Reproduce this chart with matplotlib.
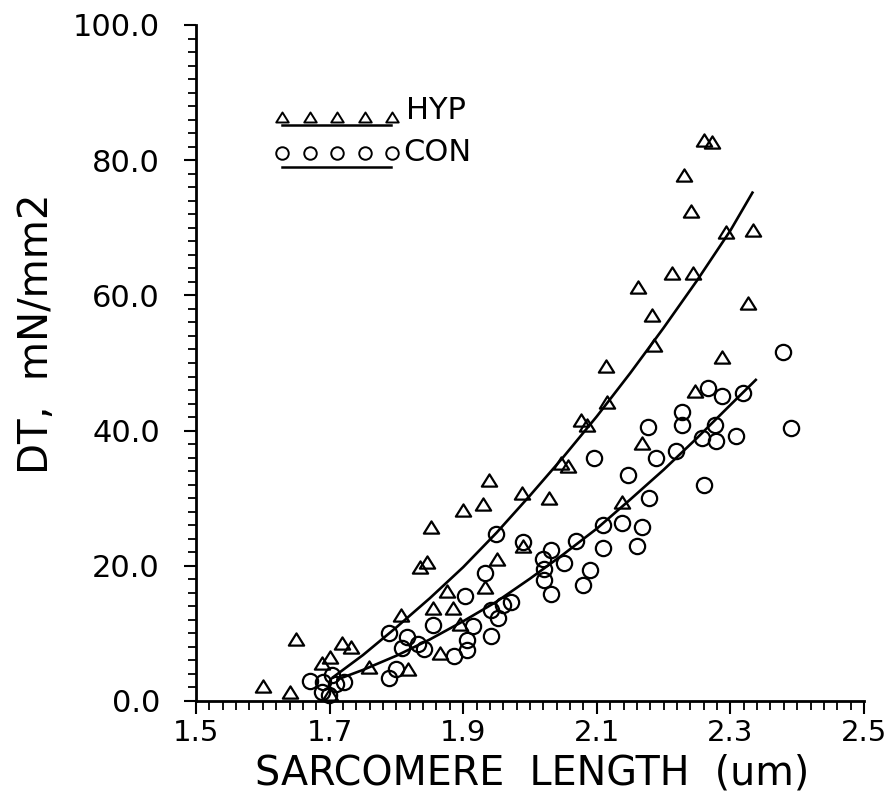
import matplotlib
matplotlib.use('Agg')
import matplotlib.pyplot as plt
from matplotlib.path import Path
from matplotlib.ticker import MultipleLocator, FormatStrFormatter

plt.rcParams['font.family'] = ['DejaVu Sans']

# hypertrophied hearts (triangles)
hyp_length = [1.600, 1.641, 1.650, 1.689, 1.700, 1.700, 1.718, 1.732, 1.759, 1.807,
              1.817, 1.836, 1.846, 1.852, 1.855, 1.865, 1.875, 1.884, 1.895, 1.900,
              1.930, 1.933, 1.938, 1.950, 1.988, 1.990, 2.028, 2.047, 2.057, 2.076,
              2.086, 2.114, 2.116, 2.138, 2.162, 2.167, 2.183, 2.186, 2.213, 2.230,
              2.241, 2.244, 2.247, 2.260, 2.272, 2.287, 2.294, 2.327, 2.334]
hyp_tension = [2.2, 1.3, 9.2, 5.6, 6.5, 1.0, 8.6, 8.0, 5.0, 12.7,
               4.8, 19.8, 20.6, 25.8, 13.7, 7.1, 16.2, 13.7, 11.4, 28.2,
               29.2, 16.8, 32.7, 21.0, 30.7, 23.0, 30.1, 35.2, 34.7, 41.6,
               40.8, 49.6, 44.3, 29.5, 61.3, 38.2, 57.1, 52.7, 63.3, 77.8,
               72.5, 63.3, 45.8, 83.0, 82.7, 50.9, 69.4, 58.9, 69.7]

# control hearts (circles)
con_length = [1.670, 1.690, 1.689, 1.699, 1.704, 1.709, 1.722, 1.789, 1.799, 1.789,
              1.808, 1.816, 1.832, 1.842, 1.855, 1.886, 1.905, 1.905, 1.903, 1.914,
              1.933, 1.942, 1.942, 1.949, 1.952, 1.960, 1.972, 1.990, 2.019, 2.021,
              2.021, 2.031, 2.031, 2.051, 2.069, 2.080, 2.090, 2.096, 2.109, 2.109,
              2.138, 2.147, 2.160, 2.168, 2.176, 2.178, 2.188, 2.218, 2.227, 2.228,
              2.257, 2.260, 2.267, 2.277, 2.279, 2.287, 2.308, 2.319, 2.378, 2.390]
con_tension = [2.9, 2.8, 1.4, 0.9, 3.8, 2.5, 2.8, 3.4, 4.8, 10.1,
               7.9, 9.4, 8.4, 7.7, 11.2, 6.6, 9.0, 7.6, 15.5, 11.1,
               19.0, 13.5, 9.6, 24.7, 12.3, 14.2, 14.6, 23.5, 21.0, 19.5,
               17.9, 22.4, 15.8, 20.4, 23.7, 17.2, 19.4, 36.0, 26.0, 22.6,
               26.3, 33.4, 22.9, 25.8, 40.6, 30.0, 35.9, 37.0, 42.7, 40.8,
               38.9, 32.0, 46.3, 40.8, 38.4, 45.1, 39.2, 45.5, 51.7, 40.4]

# regression curves as drawn in the figure
hyp_fit_length = [1.705, 1.75, 1.80, 1.85, 1.90, 1.95, 2.00, 2.05, 2.10, 2.15,
                  2.20, 2.25, 2.30, 2.333]
hyp_fit_tension = [3.5, 6.8, 10.9, 15.2, 19.8, 24.9, 30.4, 36.1, 42.1, 48.5,
                   55.2, 62.2, 69.6, 75.2]
con_fit_length = [1.712, 1.75, 1.80, 1.85, 1.90, 1.95, 2.00, 2.05, 2.10, 2.15,
                  2.20, 2.25, 2.30, 2.338]
con_fit_tension = [3.2, 4.6, 6.7, 9.1, 11.8, 14.7, 18.1, 21.7, 25.5, 29.8,
                   34.2, 38.9, 43.8, 47.5]

x_ticks = [1.5, 1.7, 1.9, 2.1, 2.3, 2.5]
y_ticks = [0, 20, 40, 60, 80, 100]

# slightly flattened open triangle, like the plotter symbol
tri = Path([(0, 0.8), (-1, -0.8), (1, -0.8), (0, 0.8)], closed=True)

fig = plt.figure(figsize=(8.89, 8.09), dpi=100)
ax = fig.add_axes([196 / 889, 1 - 701 / 809, 668 / 889, 676 / 809])

ax.plot(hyp_length, hyp_tension, linestyle='none', marker=tri,
        markersize=11, markerfacecolor='none', markeredgecolor='black',
        markeredgewidth=1.6, clip_on=False)
ax.plot(con_length, con_tension, linestyle='none', marker='o',
        markersize=11, markerfacecolor='none', markeredgecolor='black',
        markeredgewidth=1.6, clip_on=False)
ax.plot(hyp_fit_length, hyp_fit_tension, color='black', linewidth=1.9,
        solid_joinstyle='round')
ax.plot(con_fit_length, con_fit_tension, color='black', linewidth=1.9,
        solid_joinstyle='round')

# legend: a row of symbols with the fit line underneath
legend_x = [0.128, 0.170, 0.211, 0.253, 0.294]
ax.plot(legend_x, [0.864] * 5, linestyle='none', marker=tri, markersize=9,
        markerfacecolor='none', markeredgecolor='black', markeredgewidth=1.4,
        transform=ax.transAxes)
ax.plot([0.129, 0.292], [0.852, 0.852], color='black', linewidth=1.8,
        transform=ax.transAxes)
ax.text(0.314, 0.874, 'HYP', fontsize=22, va='center', ha='left',
        transform=ax.transAxes)
ax.plot(legend_x, [0.810] * 5, linestyle='none', marker='o', markersize=9,
        markerfacecolor='none', markeredgecolor='black', markeredgewidth=1.4,
        transform=ax.transAxes)
ax.plot([0.129, 0.292], [0.790, 0.790], color='black', linewidth=1.8,
        transform=ax.transAxes)
ax.text(0.311, 0.812, 'CON', fontsize=22, va='center', ha='left',
        transform=ax.transAxes)

# axes look
ax.set_xlim(1.5, 2.5)
ax.set_ylim(0, 100)
ax.spines['top'].set_visible(False)
ax.spines['right'].set_visible(False)
ax.spines['left'].set_linewidth(2.0)
ax.spines['bottom'].set_linewidth(2.0)

ax.set_xticks(x_ticks)
ax.set_yticks(y_ticks)
ax.xaxis.set_major_formatter(FormatStrFormatter('%.1f'))
ax.yaxis.set_major_formatter(FormatStrFormatter('%.1f'))
ax.xaxis.set_minor_locator(MultipleLocator(0.02))
ax.yaxis.set_minor_locator(MultipleLocator(2))
ax.tick_params(axis='both', which='both', direction='out', color='black')
ax.tick_params(axis='x', which='major', length=9, width=1.5, pad=4,
               labelsize=21)
ax.tick_params(axis='x', which='minor', length=6.5, width=1.3)
ax.tick_params(axis='y', which='major', length=9, width=1.5, pad=17,
               labelsize=22)
ax.tick_params(axis='y', which='minor', length=6, width=1.3)

ax.set_xlabel('SARCOMERE  LENGTH  (um)', fontsize=28.5, va='top')
ax.xaxis.set_label_coords(0.503, -0.078)
ax.set_ylabel('DT,  mN/mm2', fontsize=29)
ax.yaxis.set_label_coords(-0.208, 0.544)

fig.savefig('out.png', dpi=100)
